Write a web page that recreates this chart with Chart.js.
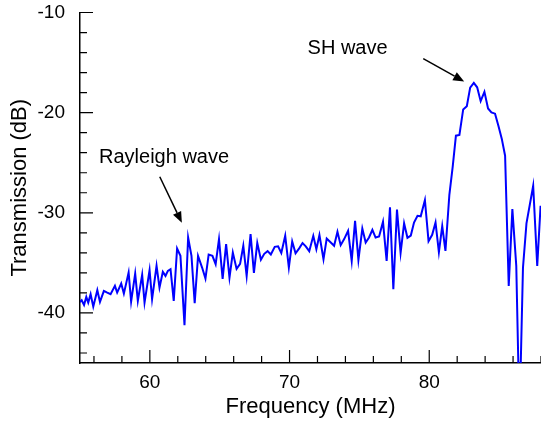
<!DOCTYPE html>
<html>
<head>
<meta charset="utf-8">
<script src="https://cdn.jsdelivr.net/npm/chart.js@4/dist/chart.umd.min.js"></script>
<style>
html,body{margin:0;padding:0;background:#fff;}
#c{display:block;}
</style>
</head>
<body>
<canvas id="c" width="541" height="421" style="width:541px;height:421px"></canvas>
<script>
// ---- data ----
const frequencyMHz = [
 54.93,55.12,55.29,55.45,55.59,55.76,55.95,56.24,56.43,56.71,56.95,57.19,57.50,57.66,57.95,58.14,
 58.48,58.66,58.95,59.14,59.45,59.62,59.98,60.16,60.48,60.69,60.93,61.12,61.29,61.48,61.71,61.95,
 62.19,62.48,62.74,62.98,63.21,63.45,63.74,63.98,64.21,64.48,64.71,64.95,65.21,65.46,65.70,65.94,
 66.21,66.46,66.69,66.93,67.21,67.45,67.69,67.95,68.19,68.43,68.66,68.94,69.18,69.41,69.69,69.95,
 70.19,70.43,70.69,70.93,71.16,71.41,71.70,71.92,72.14,72.43,72.66,72.95,73.19,73.43,73.66,73.91,
 74.19,74.45,74.69,74.93,75.21,75.45,75.69,75.93,76.16,76.41,76.69,76.95,77.19,77.43,77.69,77.95,
 78.20,78.44,78.68,78.91,79.16,79.39,79.69,79.95,80.21,80.45,80.69,80.93,81.16,81.44,81.68,81.91,
 82.16,82.43,82.69,82.93,83.19,83.43,83.68,83.95,84.21,84.45,84.71,84.95,85.19,85.43,85.69,85.95,
 86.23,86.46,86.71,86.96,87.44,87.73,87.97
];
const transmissionDB = [
 -38.97,-38.73,-39.20,-38.40,-38.97,-38.13,-39.37,-37.73,-38.90,-37.80,-37.97,-38.13,-37.30,-37.97,-37.07,-38.07,
 -35.97,-38.87,-36.07,-38.80,-36.20,-38.97,-35.73,-38.63,-35.30,-37.47,-35.90,-36.30,-35.80,-35.63,-38.80,-33.57,
 -34.30,-41.23,-32.47,-34.30,-39.03,-34.30,-35.47,-36.57,-34.17,-34.30,-35.13,-32.63,-36.60,-33.13,-36.47,-33.97,
 -35.60,-35.10,-33.30,-36.30,-32.13,-36.00,-33.00,-34.68,-34.10,-33.83,-34.16,-33.40,-33.35,-34.02,-32.30,-35.47,
 -32.87,-34.05,-33.55,-33.02,-33.35,-33.83,-32.30,-33.63,-32.23,-34.63,-32.57,-32.97,-33.30,-31.90,-33.23,-32.63,
 -31.80,-34.80,-30.80,-34.70,-31.57,-32.97,-32.47,-31.70,-32.47,-32.37,-30.90,-34.80,-29.45,-37.63,-29.68,-34.00,
 -31.05,-32.50,-32.27,-30.97,-30.30,-30.35,-28.73,-32.83,-32.20,-30.97,-33.93,-31.33,-33.80,-28.20,-25.40,-22.30,
 -22.23,-19.68,-19.35,-17.50,-17.03,-17.47,-18.85,-17.92,-19.58,-19.97,-20.10,-21.30,-22.60,-24.30,-37.30,-29.63,
 -35.30,-50.50,-35.47,-31.05,-27.30,-35.30,-29.30
];
const xTickLabels = [60, 70, 80];
const yTickLabels = [-40, -30, -20, -10];
const xRange = [55, 88];
const yRange = [-45, -10];
const xMinorStep = 2;
const yMinorStep = 2;
const xTitle = 'Frequency (MHz)';
const yTitle = 'Transmission (dB)';
// annotation labels and arrows, in data coordinates
const noteTexts = ['SH wave', 'Rayleigh wave'];
const noteTextAt = [[71.29, -13.6], [56.36, -24.5]];
const noteArrowFrom = [[79.57, -14.6], [60.71, -26.4]];
const noteArrowTo = [[82.50, -16.9], [62.29, -31.0]];

const FONT = '"Liberation Sans", Arial, Helvetica, sans-serif';

const decor = {
  id: 'decor',
  afterDraw(chart) {
    const {ctx, chartArea: a, scales: {x, y}} = chart;
    ctx.save();
    // inward ticks
    ctx.strokeStyle = '#000';
    ctx.lineWidth = 1.2;
    ctx.beginPath();
    for (let v = Math.ceil(xRange[0] / xMinorStep) * xMinorStep; v <= xRange[1]; v += xMinorStep) {
      const px = x.getPixelForValue(v);
      const len = (v % 10 === 0) ? 13 : 7;
      ctx.moveTo(px, a.bottom);
      ctx.lineTo(px, a.bottom - len);
    }
    for (let v = Math.ceil(yRange[0] / yMinorStep) * yMinorStep; v <= yRange[1]; v += yMinorStep) {
      const py = y.getPixelForValue(v);
      const len = (v % 10 === 0) ? 13 : 7;
      ctx.moveTo(a.left, py);
      ctx.lineTo(a.left + len, py);
    }
    ctx.stroke();
    // annotations
    ctx.fillStyle = '#000';
    ctx.font = '20px ' + FONT;
    ctx.textBaseline = 'middle';
    ctx.textAlign = 'left';
    noteTexts.forEach((t, i) => {
      ctx.fillText(t, x.getPixelForValue(noteTextAt[i][0]), y.getPixelForValue(noteTextAt[i][1]));
      const x0 = x.getPixelForValue(noteArrowFrom[i][0]), y0 = y.getPixelForValue(noteArrowFrom[i][1]);
      const x1 = x.getPixelForValue(noteArrowTo[i][0]), y1 = y.getPixelForValue(noteArrowTo[i][1]);
      const ang = Math.atan2(y1 - y0, x1 - x0);
      const hl = 11, hw = 4.5;
      const bx = x1 - hl * Math.cos(ang), by = y1 - hl * Math.sin(ang);
      ctx.lineWidth = 1.5;
      ctx.beginPath();
      ctx.moveTo(x0, y0);
      ctx.lineTo(bx, by);
      ctx.stroke();
      ctx.beginPath();
      ctx.moveTo(x1, y1);
      ctx.lineTo(bx + hw * Math.sin(ang), by - hw * Math.cos(ang));
      ctx.lineTo(bx - hw * Math.sin(ang), by + hw * Math.cos(ang));
      ctx.closePath();
      ctx.fill();
    });
    ctx.restore();
  }
};

new Chart(document.getElementById('c'), {
  type: 'line',
  data: {
    datasets: [{
      data: frequencyMHz.map((f, i) => ({x: f, y: transmissionDB[i]})),
      borderColor: '#0000ff',
      borderWidth: 2,
      pointRadius: 0,
      tension: 0,
      fill: false,
      clip: 0
    }]
  },
  options: {
    responsive: false,
    animation: false,
    devicePixelRatio: 1,
    layout: {padding: {top: 0, left: 0, right: 0, bottom: 0}},
    plugins: {legend: {display: false}, tooltip: {enabled: false}},
    scales: {
      x: {
        type: 'linear', min: xRange[0], max: xRange[1],
        afterBuildTicks: s => { s.ticks = xTickLabels.map(v => ({value: v})); },
        afterFit: s => { s.height = 58; s.paddingLeft = 0; s.paddingRight = 0; },
        grid: {display: true, drawOnChartArea: false, drawTicks: false},
        border: {display: true, color: '#000', width: 1.5},
        ticks: {color: '#000', font: {family: FONT, size: 19}, padding: 8, maxRotation: 0, autoSkip: false},
        title: {display: true, text: xTitle, color: '#000', font: {family: FONT, size: 22}, padding: {top: 0, bottom: 1}}
      },
      y: {
        type: 'linear', min: yRange[0], max: yRange[1],
        afterBuildTicks: s => { s.ticks = yTickLabels.map(v => ({value: v})); },
        afterFit: s => { s.width = 80; s.paddingTop = 12.5; s.paddingBottom = 0; },
        grid: {display: true, drawOnChartArea: false, drawTicks: false},
        border: {display: true, color: '#000', width: 1.5},
        ticks: {color: '#000', font: {family: FONT, size: 19}, padding: 15, autoSkip: false},
        title: {display: true, text: yTitle, color: '#000', font: {family: FONT, size: 22}, padding: {top: 7, bottom: 0}}
      }
    }
  },
  plugins: [decor]
});
</script>
</body>
</html>
